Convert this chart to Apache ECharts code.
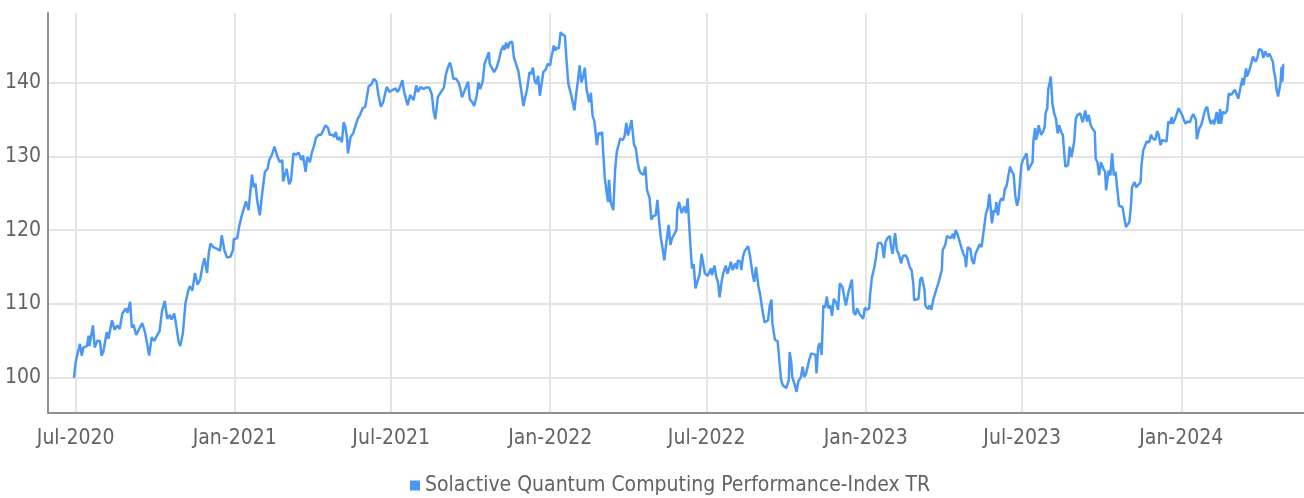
<!DOCTYPE html>
<html>
<head>
<meta charset="utf-8">
<script src="https://cdn.jsdelivr.net/npm/echarts@6/dist/echarts.min.js"></script>
<style>
  html, body { margin: 0; padding: 0; background: #ffffff; }
  #chart { width: 1304px; height: 498px; }
</style>
</head>
<body>
<div id="chart"></div>
<script>
// Solactive Quantum Computing Performance-Index TR, rebased to 100.
const seriesName = 'Solactive Quantum Computing Performance-Index TR';

// Observation dates, as calendar days counted from 1 July 2020.
const dayOffsets = [
  -2, 0, 2, 5, 7, 9, 13, 15, 16, 20,
  22, 25, 28, 30, 32, 36, 38, 40, 42, 45,
  48, 51, 54, 58, 60, 63, 65, 67, 70, 73,
  77, 80, 83, 85, 88, 91, 94, 97, 100, 103,
  106, 109, 111, 114, 116, 119, 121, 124, 127, 130,
  132, 135, 138, 141, 144, 147, 149, 152, 154, 156,
  159, 163, 167, 169, 172, 175, 179, 182, 183, 187,
  189, 192, 194, 197,
  200, 204, 206, 208, 210, 213, 216, 219, 222, 224,
  227, 230, 233, 236, 239, 240, 244, 247, 249, 252,
  255, 258, 261, 263, 266, 268, 271, 273, 276, 278,
  281, 284, 286, 289, 292, 294, 297, 299, 301, 303,
  305, 308, 310, 312, 314, 315, 318, 321, 324, 326,
  329, 332, 335, 337, 339, 342, 345, 348, 350, 353,
  356, 358, 360, 363, 367, 370, 372, 374, 378, 380,
  384, 387, 389, 391, 394, 396, 399,
  402, 405, 409, 412, 414, 416, 419, 421, 423, 426,
  428, 430, 433, 435, 437, 440, 443, 445, 447, 450,
  452, 454, 456, 459, 461, 464, 466, 468, 471, 473,
  475, 478, 479, 481, 484, 487, 490, 492, 495, 496,
  498, 500, 502, 505, 507, 510, 512, 515, 516, 518,
  520, 522, 525, 527, 529, 531, 533, 535, 537, 539,
  541, 544, 546, 549, 550, 552, 553, 555, 556, 559,
  561, 563, 566, 568, 570, 573, 575, 577, 579, 581,
  583, 585, 587, 589, 591, 594, 596, 598, 600,
  603, 605, 607, 609, 610, 612, 614, 616, 617, 619,
  622, 624, 626, 628, 630, 633, 635, 637, 639, 641,
  643, 646, 648, 650, 652, 654, 657, 659, 661, 664,
  666, 668, 671, 673, 675, 677, 679, 681, 683, 684,
  686, 688, 690, 692, 695, 696, 698, 700, 701, 704,
  706, 708, 711, 713, 715, 717, 719, 722, 724, 726,
  728, 731, 733, 735, 736, 739, 741, 743, 745, 747,
  749, 752, 754, 756, 758, 760, 763, 765, 766, 769,
  770, 772, 774, 776, 778, 780, 783, 785, 787, 790,
  792, 794, 797,
  801, 803, 805, 806, 809, 812, 814, 816, 818, 820,
  822, 825, 826, 828, 829, 832, 834, 836, 839, 841,
  843, 845, 847, 849, 851, 853, 856, 857, 859, 861,
  863, 865, 867, 869, 871, 873, 875, 877, 880, 882,
  884, 887, 889, 891, 894, 896, 898, 900, 902, 904,
  907, 909, 911, 913, 915, 918, 919, 921, 924, 926,
  928, 931, 933, 935, 937, 939, 942, 943, 945, 948,
  950, 952, 955, 957, 960, 962, 965, 967, 969, 970,
  972, 975, 977, 979, 982, 983, 986, 988, 990, 992,
  994, 996, 998, 1000, 1002, 1003, 1006, 1008,
  1010, 1012, 1015, 1016, 1018, 1020, 1022, 1025, 1027, 1029,
  1030, 1032, 1035, 1037, 1039, 1041, 1043, 1046, 1048, 1050,
  1053, 1055, 1057, 1059, 1060, 1062, 1064, 1065, 1067, 1069,
  1071, 1073, 1075, 1077, 1079, 1081, 1083, 1085, 1087, 1089,
  1091, 1094, 1096, 1098, 1100, 1102, 1104, 1107, 1108, 1110,
  1111, 1113, 1114, 1117, 1119, 1121, 1122, 1124, 1125, 1127,
  1128, 1130, 1132, 1134, 1136, 1138, 1140, 1142, 1144, 1145,
  1148, 1150, 1152, 1155, 1157, 1159, 1162, 1164, 1165, 1168,
  1170, 1172, 1174, 1176, 1179, 1180, 1182, 1184, 1186, 1189,
  1191, 1192, 1195, 1197, 1199, 1201, 1203, 1205, 1207, 1209,
  1211, 1213, 1215, 1217, 1219, 1221, 1222, 1225, 1227, 1229,
  1232, 1233, 1235, 1237, 1239, 1242, 1244, 1246, 1249, 1251,
  1253, 1255, 1257, 1259, 1262, 1264, 1266, 1268, 1269, 1272,
  1274, 1276, 1278, 1280, 1282, 1284, 1286, 1289, 1291, 1293,
  1296, 1297, 1300, 1302, 1304, 1307, 1309, 1311, 1313, 1316,
  1317, 1320, 1322, 1324, 1325, 1327, 1330, 1332, 1334, 1337,
  1339, 1341, 1343, 1345, 1348, 1350, 1351, 1354, 1355, 1358,
  1360, 1362, 1365, 1367, 1369, 1372, 1374, 1376, 1379, 1381,
  1383, 1385, 1386, 1388, 1389, 1391, 1392, 1394, 1395, 1396,
  1397, 1398
];

// Index level on each of those dates.
const indexValues = [
  100.0, 102.1, 103.2, 104.6, 103.0, 104.1, 104.3, 105.7, 104.3, 107.1,
  104.1, 105.0, 105.0, 103.0, 103.5, 106.2, 105.3, 105.5, 107.8, 106.5,
  107.1, 106.6, 108.7, 109.4, 108.8, 110.3, 106.8, 107.2, 105.8, 106.5,
  107.4, 106.3, 104.4, 103.0, 105.5, 105.0, 105.7, 106.3, 109.1, 110.4,
  108.0, 108.5, 107.9, 108.7, 107.4, 104.9, 104.3, 106.0, 110.1, 111.7,
  112.4, 111.8, 114.2, 112.6, 113.3, 115.3, 116.2, 114.2, 116.9, 118.2,
  117.7, 117.5, 117.2, 119.3, 117.3, 116.3, 116.4, 117.3, 118.8, 118.9,
  120.4, 121.9, 121.7, 123.9,
  122.7, 127.5, 125.8, 126.3, 124.0, 122.0, 125.2, 127.9, 128.3, 129.5,
  130.2, 131.3, 130.1, 129.2, 129.5, 126.6, 128.3, 126.2, 126.7, 130.4,
  130.2, 130.5, 129.5, 130.1, 127.9, 129.9, 129.2, 130.4, 131.5, 132.5,
  132.9, 132.9, 133.1, 134.2, 133.8, 132.9, 132.9, 132.6, 133.3, 132.2,
  132.6, 131.9, 134.6, 134.0, 132.4, 130.4, 132.6, 133.1, 134.2, 135.0,
  135.6, 136.5, 136.7, 138.1, 139.5, 139.7, 140.5, 140.1, 138.5, 136.7,
  137.4, 138.5, 139.4, 138.7, 139.0, 139.2, 138.7, 139.0, 140.3, 138.7,
  136.9, 138.3, 138.5, 137.6, 139.6, 138.7, 139.4,
  139.1, 139.3, 139.3, 138.4, 136.2, 135.0, 138.0, 138.4, 138.6, 139.3,
  140.9, 141.8, 142.7, 141.8, 140.5, 140.5, 140.0, 139.1, 138.0, 138.9,
  139.5, 140.1, 137.7, 137.3, 136.8, 138.2, 140.0, 139.1, 140.2, 142.5,
  142.5, 144.1, 142.5, 142.3, 141.4, 142.0, 143.2, 144.3, 145.0, 144.4,
  145.4, 144.6, 145.4, 145.5, 143.4, 142.3, 141.6, 139.3, 139.1, 136.8,
  138.0, 138.9, 141.4, 141.1, 142.0, 140.2, 139.8, 140.9, 138.2, 138.0,
  141.4, 141.8, 142.5, 142.3, 143.2, 144.3, 145.0, 144.3, 144.7, 144.6,
  146.8, 146.5, 146.3, 142.7, 139.8, 138.4, 137.3, 136.2, 138.4, 140.2,
  142.3, 140.0, 140.7, 142.0, 139.1, 137.3, 138.6, 135.5, 134.8,
  131.5, 133.2, 132.9, 133.3, 131.1, 127.2, 125.4, 123.8, 126.8, 123.8,
  122.7, 128.1, 130.6, 130.8, 132.4, 132.2, 132.7, 134.5, 132.8, 133.8,
  134.9, 131.5, 131.1, 129.3, 128.1, 127.7, 127.5, 128.6, 125.4, 124.3,
  121.4, 121.9, 122.0, 124.1, 121.1, 118.9, 117.5, 115.9, 118.0, 117.8,
  120.7, 118.0, 118.9, 119.1, 120.0, 122.7, 123.8, 123.8, 122.3, 123.2,
  122.3, 124.3, 118.2, 114.8, 115.4, 112.1, 112.3, 114.1, 116.8, 117.0,
  114.1, 113.8, 113.7, 114.8, 113.9, 115.2, 113.7, 113.0, 110.9, 112.8,
  114.1, 115.2, 114.1, 114.8, 115.7, 114.6, 115.5, 114.7, 115.9, 115.7,
  114.6, 116.4, 117.2, 117.0, 117.8, 116.6, 114.1, 113.0, 115.0, 112.3,
  111.2, 109.5, 107.5,
  107.8, 109.8, 110.6, 107.4, 105.1, 105.0, 102.4, 99.8, 99.0, 99.2,
  98.6, 99.7, 103.5, 101.9, 100.1, 99.0, 98.1, 99.5, 100.1, 101.5,
  100.1, 100.6, 100.8, 102.6, 103.3, 103.1, 103.1, 100.6, 104.2, 104.7,
  103.1, 109.8, 109.5, 111.0, 109.4, 109.8, 108.4, 110.7, 110.1, 109.2,
  112.8, 112.3, 112.1, 109.8, 111.6, 111.6, 113.3, 108.9, 108.5, 109.4,
  108.6, 108.6, 108.0, 109.5, 109.2, 109.4, 111.2, 113.5, 115.0, 116.4,
  118.2, 118.3, 118.0, 116.2, 118.4, 118.9, 119.2, 118.0, 116.8, 119.6,
  117.3, 116.8, 115.5, 116.5, 116.6, 116.2, 115.0, 114.6, 112.8, 110.5,
  110.5, 110.7, 113.3, 113.6, 111.9, 109.8, 109.3, 109.8, 109.2, 110.5,
  110.5, 112.1, 112.8, 112.6, 114.6, 117.3, 118.0, 119.2,
  119.3, 118.9, 119.5, 118.8, 120.0, 119.5, 119.3, 117.5, 116.8, 116.3,
  115.0, 117.7, 117.4, 115.9, 115.4, 116.8, 117.0, 118.1, 117.7, 119.5,
  122.2, 122.9, 124.9, 122.4, 120.9, 122.7, 122.4, 123.8, 122.0, 123.8,
  124.3, 124.0, 125.6, 126.0, 127.4, 128.6, 127.9, 127.6, 124.7, 123.3,
  124.3, 128.8, 129.5, 130.0, 130.4, 128.1, 128.6, 129.2, 132.2, 133.8,
  132.2, 133.1, 134.2, 132.9, 133.3, 134.0, 135.8, 136.5, 139.0, 140.1,
  140.8, 137.1, 135.8, 135.1, 133.1, 134.2, 133.3, 132.9, 129.9, 128.6,
  128.8, 131.3, 129.9, 131.9, 135.1, 135.6, 135.8, 136.0, 134.6, 136.2,
  134.7, 135.6, 134.3, 133.8, 133.3, 129.7, 129.2, 127.4, 129.2, 128.3,
  127.9, 125.4, 128.1, 127.4, 130.4, 127.4, 127.9, 128.1, 123.3, 123.1,
  123.1, 121.8, 120.4, 120.6, 121.1, 123.6, 125.8, 126.5, 125.8, 125.6,
  126.5, 128.8, 130.8, 131.0, 132.0, 131.9, 132.9, 132.4, 132.2, 133.4,
  132.9, 131.5, 132.2, 132.0, 132.0, 134.7, 134.4, 135.3, 134.4, 135.1,
  135.3, 136.5, 136.0, 135.6, 134.9, 134.4, 134.7, 134.6, 135.3, 135.7,
  134.9, 132.3, 133.8, 134.2, 134.2, 136.4, 136.7, 135.3, 134.4, 134.9,
  134.3, 136.0, 134.4, 136.4, 134.4, 136.0, 135.8, 136.2, 138.5, 138.3,
  138.7, 139.0, 139.2, 137.8, 139.6, 140.6, 139.6, 141.9, 140.8, 141.7,
  141.7, 143.5, 142.8, 143.3, 144.5, 144.4, 143.3, 144.2, 143.5, 143.9,
  143.7, 142.8, 141.7, 140.5, 139.2, 138.1, 138.7, 140.1, 142.1, 140.1,
  142.4, 142.4
];

// Axis ticks and labels.
const xTickDates = ['2020-07-01', '2021-01-01', '2021-07-01', '2022-01-01',
                    '2022-07-01', '2023-01-01', '2023-07-01', '2024-01-01'];
const xTickLabels = ['Jul-2020', 'Jan-2021', 'Jul-2021', 'Jan-2022',
                     'Jul-2022', 'Jan-2023', 'Jul-2023', 'Jan-2024'];
const yTickValues = [100, 110, 120, 130, 140];

const FONT = "'DejaVu Sans Condensed', 'Liberation Sans Narrow', 'Noto Sans', sans-serif";
const FONT_SIZE = 21;
const TEXT_COLOR = '#636363';
const LINE_COLOR = '#4b98f4';
const GRID_COLOR = '#e4e4e4';
const AXIS_COLOR = '#8f8f8f';

function localTime(isoDay) {
  const p = isoDay.split('-').map(Number);
  return new Date(p[0], p[1] - 1, p[2]).getTime();
}

const xTickTimes = xTickDates.map(localTime);
const seriesData = dayOffsets.map((d, i) => [new Date(2020, 6, 1 + d).getTime(), indexValues[i]]);

const chart = echarts.init(document.getElementById('chart'), null, { renderer: 'canvas' });

chart.setOption({
  animation: false,
  backgroundColor: '#ffffff',
  textStyle: { fontFamily: FONT },
  grid: {
    left: 48, right: 0, top: 13, bottom: 85.5,
    containLabel: false,
    outerBoundsMode: 'none'
  },
  legend: {
    data: [{ name: seriesName, icon: 'rect' }],
    left: 410,
    top: 475,
    padding: 0,
    itemWidth: 10,
    itemHeight: 10,
    textStyle: { fontFamily: FONT, fontSize: FONT_SIZE, color: TEXT_COLOR }
  },
  xAxis: {
    // dates are plotted as millisecond timestamps on a linear axis
    type: 'value',
    min: localTime('2020-05-30'),
    max: localTime('2024-05-22'),
    axisLine: { show: true, onZero: false, lineStyle: { color: AXIS_COLOR, width: 2 } },
    axisTick: { show: false, customValues: xTickTimes },
    axisLabel: {
      customValues: xTickTimes,
      fontFamily: FONT,
      fontSize: FONT_SIZE,
      color: TEXT_COLOR,
      margin: 16,
      hideOverlap: false,
      formatter: function (value) {
        const i = xTickTimes.indexOf(value);
        return i >= 0 ? xTickLabels[i] : '';
      }
    },
    splitLine: { show: true, lineStyle: { color: GRID_COLOR, width: 2 } }
  },
  yAxis: {
    type: 'value',
    min: 95.3,
    max: 149.4,
    axisLine: { show: true, onZero: false, lineStyle: { color: AXIS_COLOR, width: 2 } },
    axisTick: { show: false, customValues: yTickValues },
    axisLabel: {
      customValues: yTickValues,
      fontFamily: FONT,
      fontSize: FONT_SIZE,
      color: TEXT_COLOR,
      margin: 7
    },
    splitLine: { show: true, lineStyle: { color: GRID_COLOR, width: 2 } }
  },
  series: [{
    name: seriesName,
    type: 'line',
    data: seriesData,
    showSymbol: false,
    symbol: 'none',
    lineStyle: { color: LINE_COLOR, width: 2.5 },
    itemStyle: { color: LINE_COLOR }
  }]
});
</script>
</body>
</html>
